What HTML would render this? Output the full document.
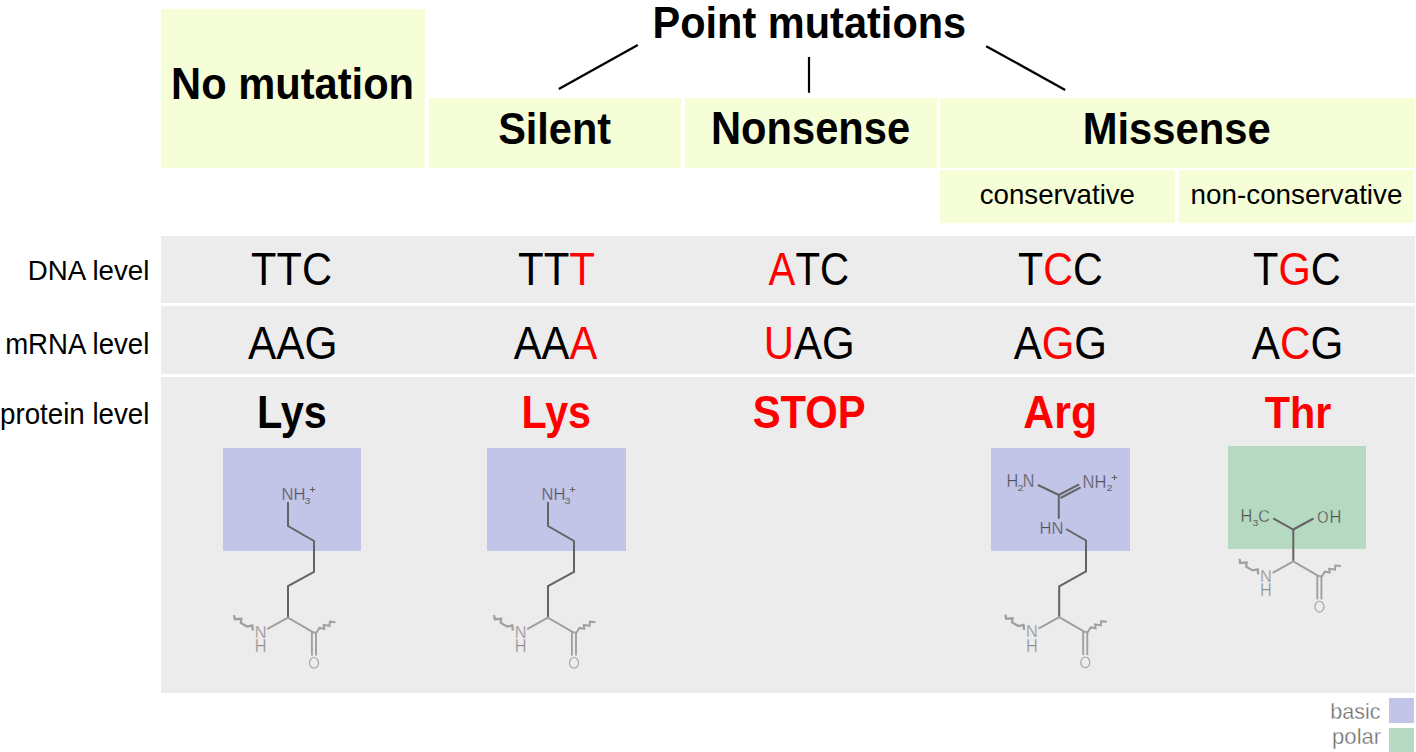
<!DOCTYPE html>
<html><head><meta charset="utf-8"><style>
html,body{margin:0;padding:0;background:#fff;width:1416px;height:752px;overflow:hidden}
svg{display:block;font-family:"Liberation Sans",sans-serif}
</style></head><body>
<svg width="1416" height="752" viewBox="0 0 1416 752">
<rect x="161" y="9" width="264" height="159" fill="#f5fed6"/>
<rect x="429" y="98" width="252" height="70" fill="#f5fed6"/>
<rect x="685" y="98" width="252" height="70" fill="#f5fed6"/>
<rect x="940" y="98" width="475" height="70" fill="#f5fed6"/>
<rect x="940" y="170" width="235" height="53" fill="#f5fed6"/>
<rect x="1179" y="170" width="235" height="53" fill="#f5fed6"/>
<rect x="161" y="236" width="1254" height="67" fill="#ececec"/>
<rect x="161" y="306" width="1254" height="68" fill="#ececec"/>
<rect x="161" y="377" width="1254" height="316" fill="#ececec"/>
<rect x="1389" y="698" width="25" height="25" fill="#c3c5e8"/>
<rect x="1389" y="728" width="25" height="24" fill="#b6d9c1"/>
<path d="M558.8,88.9 L637.8,45.0" fill="none" stroke="#000" stroke-width="2.3" stroke-linejoin="miter" />
<path d="M809.0,57.0 L809.0,92.8" fill="none" stroke="#000" stroke-width="2.2" stroke-linejoin="miter" />
<path d="M986.2,46.2 L1065.2,89.9" fill="none" stroke="#000" stroke-width="2.3" stroke-linejoin="miter" />
<text transform="translate(171.11,99.00) scale(0.9440,1)" font-size="44.14" font-weight="bold" fill="#000">No mutation</text>
<text transform="translate(652.52,38.00) scale(0.9409,1)" font-size="44.14" font-weight="bold" fill="#000">Point mutations</text>
<text transform="translate(498.14,144.00) scale(0.9397,1)" font-size="44.14" font-weight="bold" fill="#000">Silent</text>
<text transform="translate(710.96,144.00) scale(0.8858,1)" font-size="47.05" font-weight="bold" fill="#000">Nonsense</text>
<text transform="translate(1082.64,144.00) scale(0.9359,1)" font-size="44.62" font-weight="bold" fill="#000">Missense</text>
<text transform="translate(979.68,204.00) scale(0.9715,1)" font-size="28.50" fill="#000">conservative</text>
<text transform="translate(1190.52,203.70) scale(0.9772,1)" font-size="28.50" fill="#000">non-conservative</text>
<text transform="translate(27.86,279.70) scale(0.9744,1)" font-size="28.41" fill="#000">DNA level</text>
<text transform="translate(5.13,353.80) scale(0.9578,1)" font-size="28.83" fill="#000">mRNA level</text>
<text transform="translate(-0.01,423.80) scale(0.9616,1)" font-size="28.83" fill="#000">protein level</text>
<text transform="translate(251.11,285.00) scale(0.9066,1)" font-size="45.88" fill="#000">TTC</text>
<text transform="translate(517.99,285.00) scale(0.9024,1)" font-size="46.55" fill="#000">TT<tspan fill="#ff0000">T</tspan></text>
<text transform="translate(768.60,285.00) scale(0.8775,1)" font-size="45.88" fill="#000"><tspan fill="#ff0000">A</tspan>TC</text>
<text transform="translate(1018.05,285.00) scale(0.8984,1)" font-size="45.88" fill="#000">T<tspan fill="#ff0000">C</tspan>C</text>
<text transform="translate(1253.03,285.00) scale(0.9061,1)" font-size="45.88" fill="#000">T<tspan fill="#ff0000">G</tspan>C</text>
<text transform="translate(248.08,359.00) scale(0.9241,1)" font-size="45.88" fill="#000">AAG</text>
<text transform="translate(513.63,359.00) scale(0.8980,1)" font-size="46.55" fill="#000">AA<tspan fill="#ff0000">A</tspan></text>
<text transform="translate(763.73,359.00) scale(0.9147,1)" font-size="45.88" fill="#000"><tspan fill="#ff0000">U</tspan>AG</text>
<text transform="translate(1013.63,359.00) scale(0.9153,1)" font-size="45.88" fill="#000">A<tspan fill="#ff0000">G</tspan>G</text>
<text transform="translate(1251.85,359.00) scale(0.9203,1)" font-size="45.88" fill="#000">A<tspan fill="#ff0000">C</tspan>G</text>
<text transform="translate(256.94,428.00) scale(0.8874,1)" font-size="46.71" font-weight="bold" fill="#000">Lys</text>
<text transform="translate(521.48,428.00) scale(0.8834,1)" font-size="46.71" font-weight="bold" fill="#ff0000">Lys</text>
<text transform="translate(752.69,428.00) scale(0.9115,1)" font-size="45.85" font-weight="bold" fill="#ff0000">STOP</text>
<text transform="translate(1023.34,428.00) scale(0.9166,1)" font-size="46.71" font-weight="bold" fill="#ff0000">Arg</text>
<text transform="translate(1264.63,428.00) scale(0.9320,1)" font-size="44.41" font-weight="bold" fill="#ff0000">Thr</text>
<text transform="translate(1330.13,719.00) scale(0.9468,1)" font-size="22.80" fill="#6e6e6e" stroke="#ffffff" stroke-width="0.35">basic</text>
<text transform="translate(1332.04,744.00) scale(0.9702,1)" font-size="22.80" fill="#6e6e6e" stroke="#ffffff" stroke-width="0.35">polar</text>
<rect x="223" y="448" width="138" height="103" fill="#c3c5e8"/>
<rect x="487" y="448" width="139" height="103" fill="#c3c5e8"/>
<rect x="991" y="448" width="139" height="103" fill="#c3c5e8"/>
<rect x="1228" y="446" width="138" height="103" fill="#b6d9c1"/>
<path d="M288.0,502.0 L288.0,526.0 L314.0,541.0 L314.0,572.0 L288.0,586.0 L288.0,618.0" fill="none" stroke="#646464" stroke-width="2" stroke-linejoin="miter" />
<path d="M267.2,629.1 L287.9,617.6 L314.2,632.8" fill="none" stroke="#a0a0a0" stroke-width="2" stroke-linejoin="miter" />
<path d="M311.9,632.2 L311.9,655.6" fill="none" stroke="#a0a0a0" stroke-width="1.9" stroke-linejoin="miter" />
<path d="M316.0,632.2 L316.0,655.6" fill="none" stroke="#a0a0a0" stroke-width="1.9" stroke-linejoin="miter" />
<ellipse cx="314.0" cy="662.9" rx="4.5" ry="5.4" fill="none" stroke="#a0a0a0" stroke-width="1.1"/>
<text transform="translate(254.65,637.80) scale(0.9510,1)" font-size="17.16" fill="#8c8c8c" stroke="#ececec" stroke-width="0.3">N</text>
<text transform="translate(254.65,652.00) scale(0.9352,1)" font-size="17.45" fill="#8c8c8c" stroke="#ececec" stroke-width="0.3">H</text>
<path d="M234.1,615.1 L234.8,619.2 L241.2,618.8 L240.8,622.9 L247.1,626.6 L252.3,625.5 L252.8,630.5" fill="none" stroke="#a0a0a0" stroke-width="2.3" stroke-linejoin="miter" />
<path d="M314.2,632.8 L316.7,632.3 L319.4,627.9 L324.3,628.8 L323.8,625.0 L329.6,625.8 L329.9,621.7 L335.5,622.3" fill="none" stroke="#a0a0a0" stroke-width="2" stroke-linejoin="miter" />
<text transform="translate(281.48,500.00) scale(0.9511,1)" font-size="17.38" fill="#505050" stroke="#c3c5e8" stroke-width="0.35">NH</text>
<text transform="translate(304.60,503.90) scale(1.0854,1)" font-size="9.89" fill="#646464">3</text>
<path d="M309.75,489.50 H315.25 M312.50,486.90 V492.10" stroke="#646464" stroke-width="1.1" fill="none"/>
<path d="M548.0,502.0 L548.0,526.0 L574.0,541.0 L574.0,572.0 L548.0,586.0 L548.0,618.0" fill="none" stroke="#646464" stroke-width="2" stroke-linejoin="miter" />
<path d="M527.2,629.1 L547.9,617.6 L574.2,632.8" fill="none" stroke="#a0a0a0" stroke-width="2" stroke-linejoin="miter" />
<path d="M571.9,632.2 L571.9,655.6" fill="none" stroke="#a0a0a0" stroke-width="1.9" stroke-linejoin="miter" />
<path d="M576.0,632.2 L576.0,655.6" fill="none" stroke="#a0a0a0" stroke-width="1.9" stroke-linejoin="miter" />
<ellipse cx="574.0" cy="662.9" rx="4.5" ry="5.4" fill="none" stroke="#a0a0a0" stroke-width="1.1"/>
<text transform="translate(514.65,637.80) scale(0.9510,1)" font-size="17.16" fill="#8c8c8c" stroke="#ececec" stroke-width="0.3">N</text>
<text transform="translate(514.65,652.00) scale(0.9352,1)" font-size="17.45" fill="#8c8c8c" stroke="#ececec" stroke-width="0.3">H</text>
<path d="M494.1,615.1 L494.8,619.2 L501.2,618.8 L500.8,622.9 L507.1,626.6 L512.3,625.5 L512.8,630.5" fill="none" stroke="#a0a0a0" stroke-width="2.3" stroke-linejoin="miter" />
<path d="M574.2,632.8 L576.7,632.3 L579.4,627.9 L584.3,628.8 L583.8,625.0 L589.6,625.8 L589.9,621.7 L595.5,622.3" fill="none" stroke="#a0a0a0" stroke-width="2" stroke-linejoin="miter" />
<text transform="translate(541.48,500.00) scale(0.9511,1)" font-size="17.38" fill="#505050" stroke="#c3c5e8" stroke-width="0.35">NH</text>
<text transform="translate(564.60,503.90) scale(1.0854,1)" font-size="9.89" fill="#646464">3</text>
<path d="M569.75,489.50 H575.25 M572.50,486.90 V492.10" stroke="#646464" stroke-width="1.1" fill="none"/>
<path d="M1066.0,529.0 L1086.0,540.5 L1086.0,571.3 L1059.2,586.4 L1059.2,617.1" fill="none" stroke="#646464" stroke-width="2" stroke-linejoin="miter" />
<path d="M1058.8,518.8 L1058.8,495.0 L1038.0,485.0" fill="none" stroke="#646464" stroke-width="2" stroke-linejoin="miter" />
<path d="M1058.8,495.0 L1079.1,484.3" fill="none" stroke="#646464" stroke-width="2" stroke-linejoin="miter" />
<path d="M1060.5,498.0 L1080.6,487.4" fill="none" stroke="#646464" stroke-width="2" stroke-linejoin="miter" />
<path d="M1038.5,628.6 L1059.2,617.1 L1085.5,632.3" fill="none" stroke="#a0a0a0" stroke-width="2" stroke-linejoin="miter" />
<path d="M1083.2,631.7 L1083.2,655.1" fill="none" stroke="#a0a0a0" stroke-width="1.9" stroke-linejoin="miter" />
<path d="M1087.3,631.7 L1087.3,655.1" fill="none" stroke="#a0a0a0" stroke-width="1.9" stroke-linejoin="miter" />
<ellipse cx="1085.3" cy="662.4" rx="4.5" ry="5.4" fill="none" stroke="#a0a0a0" stroke-width="1.1"/>
<text transform="translate(1025.95,637.30) scale(0.9510,1)" font-size="17.16" fill="#8c8c8c" stroke="#ececec" stroke-width="0.3">N</text>
<text transform="translate(1025.95,651.50) scale(0.9352,1)" font-size="17.45" fill="#8c8c8c" stroke="#ececec" stroke-width="0.3">H</text>
<path d="M1005.4,614.6 L1006.1,618.7 L1012.5,618.3 L1012.1,622.4 L1018.4,626.1 L1023.6,625.0 L1024.1,630.0" fill="none" stroke="#a0a0a0" stroke-width="2.3" stroke-linejoin="miter" />
<path d="M1085.5,632.3 L1088.0,631.8 L1090.7,627.4 L1095.6,628.3 L1095.1,624.5 L1100.9,625.3 L1101.2,621.2 L1106.8,621.8" fill="none" stroke="#a0a0a0" stroke-width="2" stroke-linejoin="miter" />
<text transform="translate(1006.55,487.10) scale(0.9274,1)" font-size="17.60" fill="#505050" stroke="#c3c5e8" stroke-width="0.35">H</text>
<text transform="translate(1017.45,490.90) scale(1.1272,1)" font-size="9.75" fill="#646464">2</text>
<text transform="translate(1022.77,487.10) scale(0.9172,1)" font-size="17.60" fill="#505050" stroke="#c3c5e8" stroke-width="0.35">N</text>
<text transform="translate(1082.54,488.10) scale(0.9366,1)" font-size="17.60" fill="#505050" stroke="#c3c5e8" stroke-width="0.35">NH</text>
<text transform="translate(1106.45,490.90) scale(1.1272,1)" font-size="9.75" fill="#646464">2</text>
<path d="M1111.75,477.50 H1117.25 M1114.50,474.90 V480.10" stroke="#646464" stroke-width="1.1" fill="none"/>
<text transform="translate(1039.53,533.90) scale(0.9569,1)" font-size="17.31" fill="#505050" stroke="#c3c5e8" stroke-width="0.35">HN</text>
<path d="M1273.2,518.3 L1293.3,529.5 L1313.5,518.5" fill="none" stroke="#646464" stroke-width="2" stroke-linejoin="miter" />
<path d="M1293.3,529.5 L1293.3,561.4" fill="none" stroke="#646464" stroke-width="2" stroke-linejoin="miter" />
<path d="M1272.6,572.9 L1293.3,561.4 L1319.6,576.6" fill="none" stroke="#a0a0a0" stroke-width="2" stroke-linejoin="miter" />
<path d="M1317.3,576.0 L1317.3,599.4" fill="none" stroke="#a0a0a0" stroke-width="1.9" stroke-linejoin="miter" />
<path d="M1321.4,576.0 L1321.4,599.4" fill="none" stroke="#a0a0a0" stroke-width="1.9" stroke-linejoin="miter" />
<ellipse cx="1319.4" cy="606.7" rx="4.5" ry="5.4" fill="none" stroke="#a0a0a0" stroke-width="1.1"/>
<text transform="translate(1260.05,581.60) scale(0.9510,1)" font-size="17.16" fill="#8c8c8c" stroke="#ececec" stroke-width="0.3">N</text>
<text transform="translate(1260.05,595.80) scale(0.9352,1)" font-size="17.45" fill="#8c8c8c" stroke="#ececec" stroke-width="0.3">H</text>
<path d="M1239.5,558.9 L1240.2,563.0 L1246.6,562.6 L1246.2,566.7 L1252.5,570.4 L1257.7,569.3 L1258.2,574.3" fill="none" stroke="#a0a0a0" stroke-width="2.3" stroke-linejoin="miter" />
<path d="M1319.6,576.6 L1322.1,576.1 L1324.8,571.7 L1329.7,572.6 L1329.2,568.8 L1335.0,569.6 L1335.3,565.5 L1340.9,566.1" fill="none" stroke="#a0a0a0" stroke-width="2" stroke-linejoin="miter" />
<text transform="translate(1240.55,522.00) scale(0.9352,1)" font-size="17.45" fill="#505050" stroke="#b6d9c1" stroke-width="0.35">H</text>
<text transform="translate(1252.61,525.90) scale(1.0797,1)" font-size="9.75" fill="#646464">3</text>
<text transform="translate(1258.20,522.00) scale(0.9315,1)" font-size="17.14" fill="#505050" stroke="#b6d9c1" stroke-width="0.35">C</text>
<text transform="translate(1317.31,523.00) scale(0.8462,1)" font-size="17.14" fill="#505050" stroke="#b6d9c1" stroke-width="0.35">O</text>
<text transform="translate(1329.54,523.00) scale(0.9454,1)" font-size="17.45" fill="#505050" stroke="#b6d9c1" stroke-width="0.35">H</text>
</svg>
</body></html>
